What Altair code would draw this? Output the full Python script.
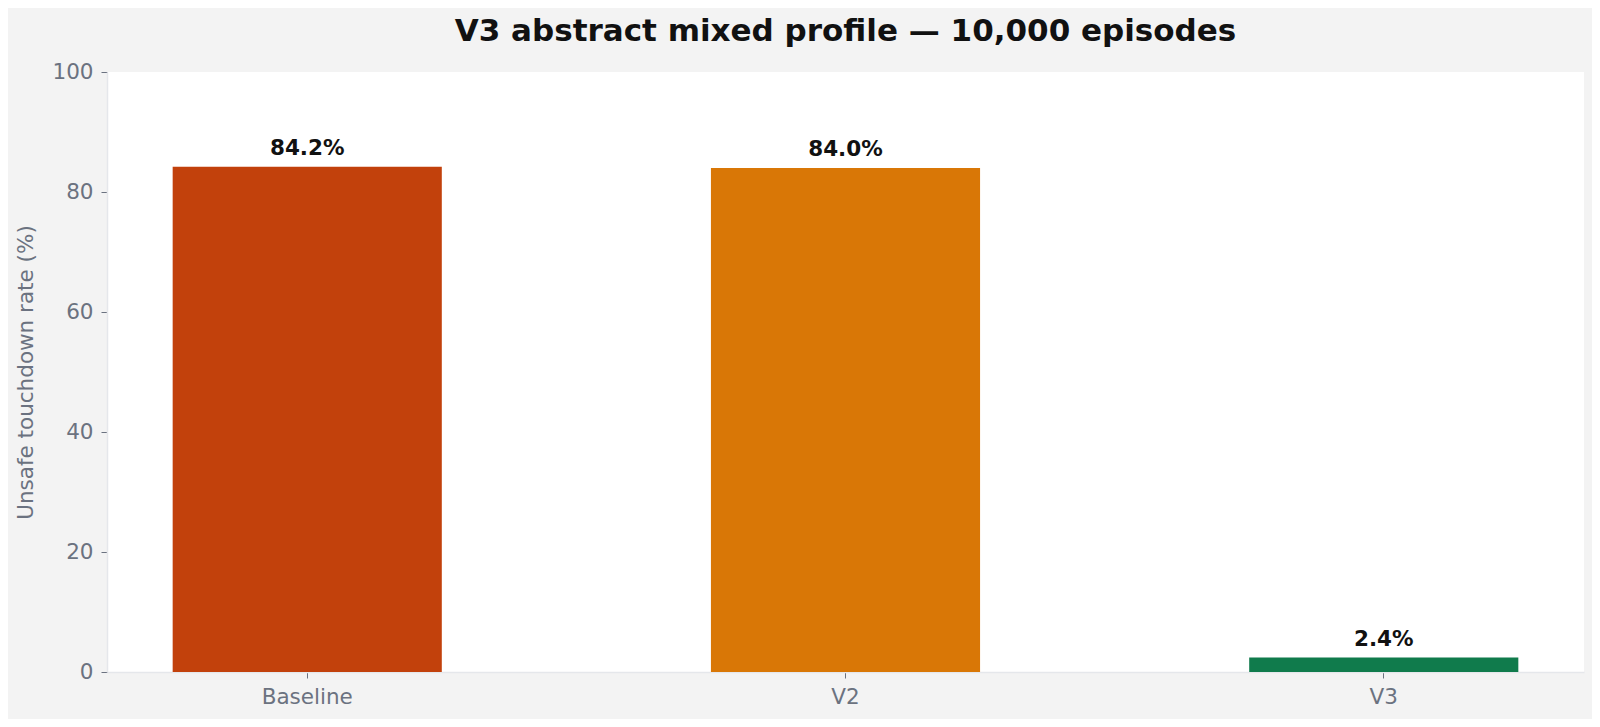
import pandas as pd
import altair as alt

categories = ["Baseline", "V2", "V3"]
rates = [84.2, 84.0, 2.4]
labels = ["84.2%", "84.0%", "2.4%"]
colors = ["#c2410c", "#d97706", "#107b4c"]
y_ticks = [0, 20, 40, 60, 80, 100]

df = pd.DataFrame({"variant": categories, "rate": rates, "label": labels})

FONT = "DejaVu Sans"
GREY = "#6b7280"

x_enc = alt.X(
    "variant:N",
    sort=categories,
    title=None,
    scale=alt.Scale(paddingInner=0.5, paddingOuter=0.122),
    axis=alt.Axis(labelAngle=0, labelFontSize=21.5, labelColor=GREY, labelFont=FONT,
                  labelPadding=8, tickColor=GREY, tickSize=6, domainColor="#e5e7eb",
                  domainWidth=1.5),
)
y_enc = alt.Y(
    "rate:Q",
    title="Unsafe touchdown rate (%)",
    scale=alt.Scale(domain=[0, 100], nice=False),
    axis=alt.Axis(values=y_ticks, grid=False, labelFontSize=21.5, labelColor=GREY,
                  labelFont=FONT, labelPadding=8, tickColor=GREY, tickSize=6,
                  domainColor="#e5e7eb", domainWidth=1.5, titleFontSize=21.5,
                  titleColor=GREY, titleFont=FONT, titleFontWeight="normal",
                  titlePadding=14),
)

bars = alt.Chart(df).mark_bar().encode(
    x=x_enc,
    y=y_enc,
    color=alt.Color("variant:N", scale=alt.Scale(domain=categories, range=colors), legend=None),
)

text = alt.Chart(df).mark_text(
    font=FONT, fontSize=21.5, fontWeight="bold", color="#111111", baseline="alphabetic", dy=-12
).encode(
    x=alt.X("variant:N", sort=categories),
    y="rate:Q",
    text="label:N",
)

chart = alt.layer(bars, text).properties(
    width=1477,
    height=600,
    background="#f3f3f3",
    autosize=alt.AutoSizeParams(type="none"),
    padding={"left": 99, "top": 64, "right": 8, "bottom": 47},
    title=alt.Title(
        "V3 abstract mixed profile — 10,000 episodes",
        font=FONT, fontSize=31, fontWeight="bold", color="#111111", offset=13, anchor="middle",
    ),
).configure_view(stroke=None, fill="white")

chart.save("out.html", embed_options={"renderer": "svg", "actions": False})
